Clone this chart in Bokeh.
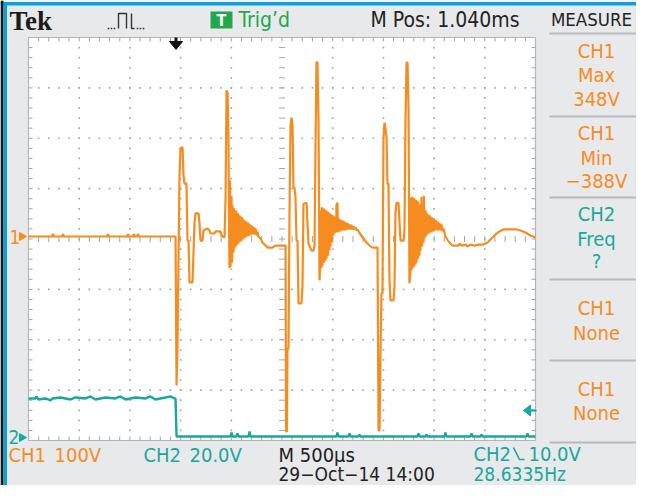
from bokeh.plotting import figure
from bokeh.models import Range1d, Label
from bokeh.embed import file_html
from bokeh.resources import INLINE

# ---------------- data ----------------
TIME_PER_DIV_US = 500
CH1_VOLTS_PER_DIV = 100
CH2_VOLTS_PER_DIV = 20

ch1_time_us = [
    0, 237, 237, 247, 247, 335, 335, 345, 345, 779, 779, 789, 789, 976, 976, 986, 986,
    1036, 1036, 1045, 1045, 1075, 1075, 1085, 1085, 1450,
    1460, 1469, 1479, 1489, 1499, 1519, 1529, 1538, 1558, 1568, 1578, 1588, 1617, 1627,
    1637, 1647, 1677, 1686, 1696, 1716, 1726, 1765, 1785, 1795, 1834, 1844, 1894, 1903,
    1933, 1943, 1953, 1963, 1972,
    1982, 1987, 1992, 2002, 2007, 2012, 2022, 2027, 2032, 2041, 2046, 2051, 2061, 2066,
    2071, 2081, 2086, 2091, 2101, 2106, 2110, 2120, 2125, 2130, 2140, 2145, 2150, 2160,
    2165, 2170, 2180, 2184, 2189, 2199, 2204, 2209, 2219, 2224, 2229, 2239, 2249, 2258,
    2268, 2288, 2308, 2327, 2357, 2406, 2436, 2535,
    2540, 2549, 2554, 2564, 2574, 2584, 2594, 2604, 2613, 2623, 2633, 2643, 2653, 2663,
    2692, 2702, 2712, 2742, 2751, 2761, 2791, 2811, 2821, 2830, 2840, 2850, 2860, 2870, 2880,
    2885, 2890, 2894, 2899, 2909, 2914, 2919, 2929, 2934, 2939, 2949, 2954, 2959, 2968,
    2973, 2978, 2988, 2993, 2998, 3008, 3013, 3018, 3028, 3033, 3037, 3047, 3052, 3057,
    3067, 3072, 3077, 3087, 3092, 3097, 3107, 3111, 3116, 3126, 3131, 3136, 3146, 3151,
    3156, 3166, 3171, 3176, 3186, 3190, 3195, 3205, 3215, 3225, 3235, 3245, 3274, 3304,
    3333, 3363, 3393, 3442,
    3452, 3462, 3471, 3481, 3491, 3501, 3511, 3521, 3531, 3540, 3550, 3560, 3570, 3600,
    3609, 3619, 3629, 3649, 3659, 3669, 3698, 3708, 3718, 3728, 3738, 3748, 3757, 3767,
    3772, 3777, 3782, 3787, 3797, 3802, 3807, 3817, 3822, 3826, 3836, 3841, 3846, 3856,
    3861, 3866, 3876, 3881, 3886, 3895, 3900, 3905, 3915, 3920, 3925, 3935, 3940, 3945,
    3955, 3960, 3964, 3974, 3979, 3984, 3994, 3999, 4004, 4014, 4019, 4024, 4033, 4038,
    4043, 4053, 4058, 4063, 4073, 4083, 4093, 4112, 4142, 4181,
    4241, 4251, 4270, 4310, 4329, 4359, 4398, 4438, 4487, 4527, 4566, 4606, 4645, 4684,
    4753, 4813, 4852, 4901, 4951, 5000,
]
ch1_volts = [
    0, 0, 4, 4, 0, 0, 4, 4, 0, 0, 4, 4, 0, 0, 4, 4, 0,
    0, 4, 4, 0, 0, 4, 4, 0, 0,
    -296, -222, -52, 121, 175, 177, 121, 105, 105, -8, -8, -91, -91, -34,
    28, 46, 46, 28, -8, -8, 12, 16, 12, 6, 6, 10, 10, 2,
    -2, 71, 290, 286, 196,
    -63, 111, -60, 81, -52, 62, -32, 56, -24, 52, -20, 50, -16, 46,
    -14, 42, -10, 40, -8, 38, -6, 34, -4, 32, -2, 30, 0, 28,
    0, 26, 2, 24, 2, 22, 4, 20, 4, 18, 4, 16, 2, 10,
    0, -4, -12, -16, -22, -22, -18, -18,
    -387, -387, -222, -222, 46, 220, 236, 220, 97, 97, 79, -8, -8, -133,
    -133, -97, 65, 67, 28, -14, -28, -28, -18, 171, 347, 345, 230, -87, -42,
    52, -62, 58, -58, 56, -52, 54, -48, 52, -44, 50, -38, 48, -28,
    46, -20, 44, -12, 42, 2, 40, 6, 38, 8, 62, 67, 8, 36,
    10, 34, 10, 32, 12, 32, 12, 30, 12, 28, 12, 28, 14, 26,
    14, 24, 14, 24, 14, 22, 14, 20, 14, 18, 12, 14, 4, -4,
    -12, -18, -22, -22,
    -385, -385, -232, -113, -113, 196, 226, 214, 196, 105, 105, -87, -127, -127,
    -101, 46, 67, 67, 28, -8, -8, 12, 230, 345, 345, 250, -93, -67,
    77, -67, 79, -63, 77, -60, 75, -56, 73, -52, 71, -44, 67, -38,
    63, -28, 79, -20, 60, -12, 81, -4, 52, 0, 48, 4, 44, 6,
    42, 8, 40, 8, 38, 10, 36, 10, 34, 12, 32, 12, 30, 12,
    28, 12, 26, 12, 24, 10, 16, 0, -10, -18,
    -18, -14, -18, -16, -20, -16, -18, -16, -16, -12, -4, 4, 10, 14,
    14, 14, 12, 8, 2, -2,
]
ch2_time_us = [
    0, 69, 79, 99, 168, 217, 237, 316, 414, 464, 562, 611, 661, 759, 858, 907, 957,
    1055, 1154, 1203, 1252, 1351, 1400, 1440, 1450, 1460, 1992, 2002, 2012, 2051, 2061,
    2071, 2170, 2180, 2189, 3037, 3047, 3057, 3156, 3166, 3176, 3254, 3264, 3274, 3836,
    3846, 3856, 3915, 3925, 3935, 4103, 4112, 4122, 4359, 4369, 4379, 4458, 4468, 4477,
    4911, 4921, 4931, 5000,
]
ch2_volts = [
    15.5, 15.5, 16.3, 15.1, 15.5, 14.7, 15.5, 15.9, 15.1, 15.9, 15.5, 16.3, 15.1, 15.9,
    15.5, 16.3, 15.1, 15.9, 15.5, 16.3, 15.1, 15.9, 16.3, 15.5, 15.5, 0.4, 0.4, 2.0, 0.4,
    0.4, 1.6, 0.4, 0.4, 2.4, 0.4, 0.4, 2.0, 0.4, 0.4, 1.6, 0.4, 0.4, 1.2, 0.4, 0.4, 1.6,
    0.4, 0.4, 1.2, 0.4, 0.4, 2.0, 0.4, 0.4, 1.6, 0.4, 0.4, 1.2, 0.4, 0.4, 1.6, 0.4, 0.4,
]
assert len(ch1_time_us) == len(ch1_volts)
assert len(ch2_time_us) == len(ch2_volts)

measure_titles = ["CH1", "CH1", "CH2", "CH1", "CH1"]
measure_names = ["Max", "Min", "Freq", "None", "None"]
measure_values = ["348V", "\u2212388V", "?", "", ""]

# ---------------- styling / layout ----------------
ORANGE = "#f68c1f"
TEAL = "#19a89c"
GREEN = "#22a74b"
CYAN = "#0aa2de"
BG = "#e8e9eb"
FONT = "DejaVu Sans Condensed, Roboto"

VX0, VX1, VY0, VY1 = 0, 636, 0, 485       # visible window (reference pixels)
GX0, GX1, GY0, GY1 = 28, 535, 37, 440     # graticule box
DIVX = (GX1 - GX0) / 10.0
DIVY = (GY1 - GY0) / 8.0
CH1_ZERO_Y = 236
CH2_ZERO_Y = 437

p = figure(width=VX1 - VX0, height=VY1 - VY0,
           x_range=Range1d(VX0, VX1), y_range=Range1d(VY1, VY0),
           output_backend="svg", toolbar_location=None, min_border=0,
           x_axis_type=None, y_axis_type=None)
p.outline_line_color = None
p.background_fill_color = BG
p.border_fill_color = BG

p.extra_x_ranges = {"t": Range1d((VX0 - GX0) / DIVX * TIME_PER_DIV_US,
                                 (VX1 - GX0) / DIVX * TIME_PER_DIV_US)}
p.extra_y_ranges = {
    "ch1": Range1d((CH1_ZERO_Y - VY1) / DIVY * CH1_VOLTS_PER_DIV,
                   (CH1_ZERO_Y - VY0) / DIVY * CH1_VOLTS_PER_DIV),
    "ch2": Range1d((CH2_ZERO_Y - VY1) / DIVY * CH2_VOLTS_PER_DIV,
                   (CH2_ZERO_Y - VY0) / DIVY * CH2_VOLTS_PER_DIV),
}

# frame bands
p.quad(left=VX0, right=VX1, top=VY0, bottom=1.5, color="#f4f6f7", line_color=None)
p.quad(left=VX0, right=VX1, top=1.5, bottom=5, color=CYAN, line_color=None)
p.quad(left=VX0, right=3, top=VY0, bottom=VY1, color="#1b1b1b", line_color=None)
p.quad(left=3, right=6.5, top=1.5, bottom=VY1, color=CYAN, line_color=None)

# graticule
p.quad(left=GX0, right=GX1, top=GY0, bottom=GY1, fill_color="white",
       line_color="#b4b6b8", line_width=1.2)
dx, dy = [], []
for i in range(1, 10):
    if i == 5:
        continue
    x = GX0 + i * DIVX
    for k in range(1, 40):
        dx.append(x)
        dy.append(GY0 + k * DIVY / 5)
for j in range(1, 8):
    if j == 4:
        continue
    y = GY0 + j * DIVY
    for k in range(1, 50):
        dx.append(GX0 + k * DIVX / 5)
        dy.append(y)
p.scatter(dx, dy, marker="square", size=1.7, color="#a7a9ab", line_color=None)

x0s, y0s, x1s, y1s = [], [], [], []
cx = GX0 + 5 * DIVX
cy = GY0 + 4 * DIVY
for k in range(1, 50):
    x = GX0 + k * DIVX / 5
    x0s += [x, x, x]; x1s += [x, x, x]
    y0s += [GY0, GY1 - 4, cy - 3]; y1s += [GY0 + 4, GY1, cy + 3]
for k in range(1, 40):
    y = GY0 + k * DIVY / 5
    y0s += [y, y, y]; y1s += [y, y, y]
    x0s += [GX0, GX1 - 4, cx - 3]; x1s += [GX0 + 4, GX1, cx + 3]
p.segment(x0s, y0s, x1s, y1s, line_color="#a3a5a7", line_width=1)

# traces
p.line(ch2_time_us, ch2_volts, x_range_name="t", y_range_name="ch2",
       line_color=TEAL, line_width=2.4)
p.line(ch1_time_us, ch1_volts, x_range_name="t", y_range_name="ch1",
       line_color=ORANGE, line_width=2.2)

# markers
p.patch([19, 26, 19], [232, 236, 240], color=ORANGE)
p.patch([19, 26, 19], [433, 437, 441], color=TEAL)
p.patch([169, 182, 175.5], [41, 41, 49], color="#111111")
p.segment([175.5], [37], [175.5], [42], line_color="#111111", line_width=3)
p.patch([523, 530, 530], [410, 404.5, 415.5], color=TEAL)
p.segment([529], [410], [536], [410], line_color=TEAL, line_width=2.2)


def txt(x, y, s, color, size=20, align="left", font=FONT, style="normal"):
    p.add_layout(Label(x=x, y=y, text=s, text_color=color, text_font=font,
                       text_font_size=f"{size}px", text_align=align,
                       text_baseline="middle", text_font_style=style))


txt(9, 236, "1", ORANGE, 19)
txt(8, 436, "2", TEAL, 19)

# header
txt(9, 20, "Tek", "#1c1c1c", 27, font="Liberation Serif", style="bold")
p.line([118, 118, 126, 126], [28, 13, 13, 28], line_color="#333333", line_width=1.4)
p.line([131, 131, 134], [13, 28, 28], line_color="#333333", line_width=1.4)
p.scatter([108, 111, 114, 137, 140, 143], [28] * 6, marker="square", size=1.6,
          color="#333333", line_color=None)
p.quad(left=210, right=232, top=11, bottom=28, color=GREEN, line_color=None)
txt(221, 20, "T", "white", 16, align="center", style="bold")
txt(238, 19, "Trig\u2019d", GREEN, 21)
txt(370, 19, "M Pos: 1.040ms", "#222222", 21)
txt(591, 19, "MEASURE", "#222222", 18.5, align="center")

# measurement panel
sep_y = [33, 116, 197, 279, 360, 442]
p.segment([549] * len(sep_y), sep_y, [642] * len(sep_y), sep_y,
          line_color="#b7b9bb", line_width=2)
rows = [(50, 74, 98), (132, 157, 180), (213, 238, 260), (307, 332, None), (388, 412, None)]
for (y1, y2, y3), t1, t2, t3 in zip(rows, measure_titles, measure_names, measure_values):
    col = TEAL if t1 == "CH2" else ORANGE
    txt(596, y1, t1, col, 20, align="center")
    txt(596, y2, t2, col, 20, align="center")
    if y3 is not None and t3:
        txt(596, y3, t3, col, 20, align="center")

# footer
txt(8, 454, "CH1", ORANGE)
txt(54, 454, "100V", ORANGE)
txt(143, 454, "CH2", TEAL)
txt(189, 454, "20.0V", TEAL)
txt(278, 454, "M 500\u00b5s", "#222222")
txt(278, 473, "29\u2212Oct\u221214 14:00", "#222222", 19)
txt(473, 453, "CH2", TEAL)
p.line([513, 519, 524], [447, 459, 459], line_color=TEAL, line_width=1.6)
txt(528, 453, "10.0V", TEAL)
txt(473, 473, "28.6335Hz", TEAL, 19)

open("out.html", "w").write(file_html(p, INLINE))
